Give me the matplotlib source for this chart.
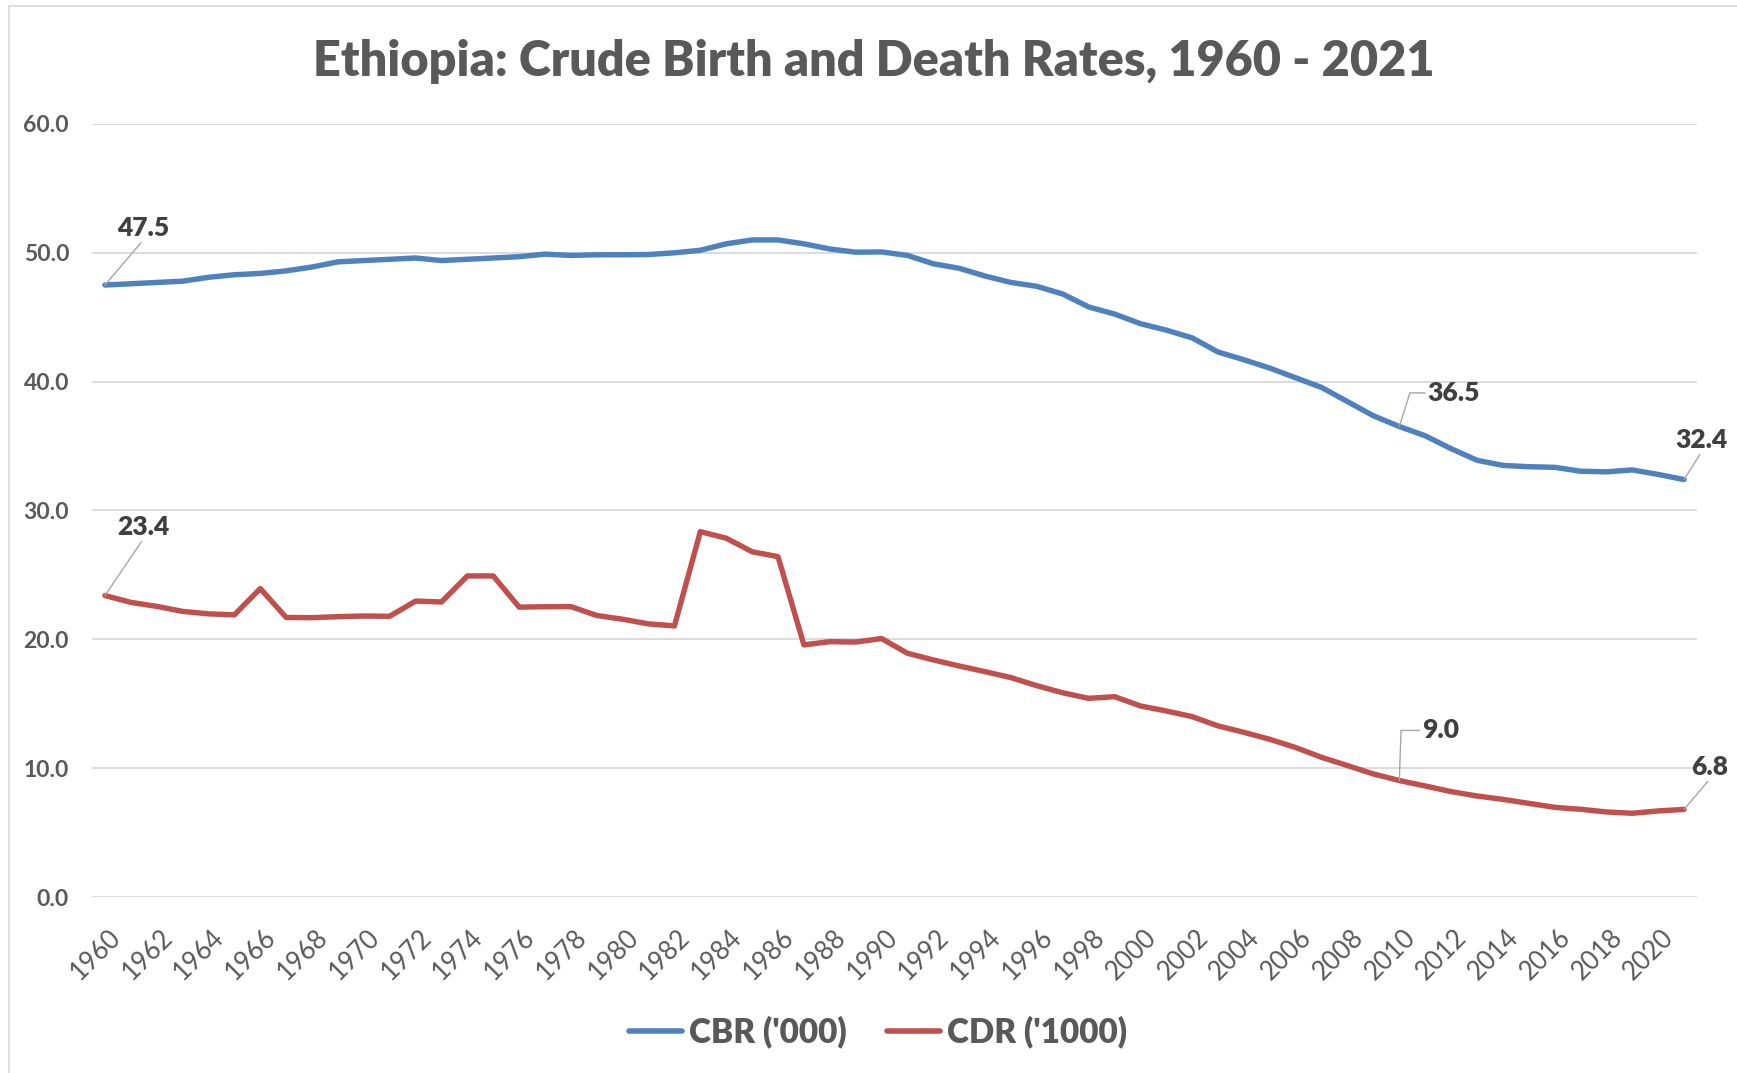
import matplotlib
matplotlib.use("Agg")
import matplotlib.pyplot as plt
from matplotlib.lines import Line2D
import matplotlib.transforms as mtransforms

plt.rcParams['font.family'] = ['Lato', 'DejaVu Sans']

# ---------------- data ----------------
years = list(range(1960, 2022))
cbr = [47.5, 47.6, 47.7, 47.8, 48.1, 48.3, 48.4, 48.6, 48.9, 49.3,
       49.4, 49.5, 49.6, 49.4, 49.5, 49.6, 49.7, 49.9, 49.8, 49.85,
       49.85, 49.87, 50.0, 50.2, 50.7, 51.0, 51.0, 50.7, 50.3, 50.05,
       50.07, 49.8, 49.15, 48.8, 48.2, 47.7, 47.4, 46.8, 45.8, 45.25,
       44.5, 44.0, 43.4, 42.3, 41.7, 41.05, 40.3, 39.55, 38.45, 37.35,
       36.52, 35.8, 34.8, 33.9, 33.5, 33.4, 33.35, 33.05, 33.0, 33.15,
       32.8, 32.4]
cdr = [23.4, 22.87, 22.56, 22.17, 21.98, 21.9, 23.94, 21.7, 21.68, 21.76,
       21.81, 21.79, 22.97, 22.9, 24.92, 24.92, 22.5, 22.53, 22.54, 21.85,
       21.56, 21.2, 21.04, 28.36, 27.85, 26.8, 26.42, 19.57, 19.82, 19.79,
       20.06, 18.92, 18.4, 17.93, 17.49, 17.03, 16.4, 15.85, 15.42, 15.55,
       14.83, 14.44, 14.0, 13.28, 12.78, 12.24, 11.6, 10.84, 10.2, 9.55,
       9.04, 8.62, 8.18, 7.84, 7.58, 7.27, 6.96, 6.81, 6.6, 6.5,
       6.68, 6.8]
series_names = ["CBR ('000)", "CDR ('1000)"]
title = "Ethiopia: Crude Birth and Death Rates, 1960 - 2021"
y_ticks = [0, 10, 20, 30, 40, 50, 60]
x_ticks = list(range(1960, 2021, 2))

# ---------------- style ----------------
W, H = 1737, 1073
BLUE = '#4F81BD'
RED = '#C0504D'
GRID = '#D9D9D9'
TXT = '#595959'
LBL = '#404040'
PX = 72 / 100.0  # points per pixel

fig = plt.figure(figsize=(W / 100, H / 100), dpi=100)
ax = fig.add_axes([92 / W, 176 / H, (1697 - 92) / W, (897 - 124) / H])

ax.plot(years, cbr, color=BLUE, lw=3.9, solid_capstyle='round', solid_joinstyle='round', zorder=3)
ax.plot(years, cdr, color=RED, lw=3.9, solid_capstyle='round', solid_joinstyle='round', zorder=3)

ax.set_xlim(years[0] - 0.5, years[-1] + 0.5)
ax.set_ylim(0, 60)
for s in ax.spines.values():
    s.set_visible(False)
ax.set_yticks(y_ticks)
ax.set_yticklabels([f"{v:.1f}" for v in y_ticks])
ax.yaxis.grid(True, color=GRID, lw=1.3)
ax.set_axisbelow(True)
ax.tick_params(axis='y', length=0, pad=16.5, labelsize=16.5, labelcolor=TXT)
for t in ax.get_yticklabels():
    t.set_fontweight('bold')

ax.set_xticks(x_ticks)
ax.set_xticklabels([str(x) for x in x_ticks])
ax.tick_params(axis='x', length=0, pad=20, labelsize=18.5, labelcolor=TXT)
offset = mtransforms.ScaledTranslation(3 / 100, 0, fig.dpi_scale_trans)
for t in ax.get_xticklabels():
    t.set_rotation(45)
    t.set_ha('right')
    t.set_va('top')
    t.set_rotation_mode('anchor')
    t.set_transform(t.get_transform() + offset)

# ---------------- data labels ----------------
def label(year, series, dx_px, dy_px, relpos, conn="arc3"):
    i = years.index(year)
    v = series[i]
    ax.annotate(f"{v:.1f}", xy=(year, v), xytext=(dx_px * PX, dy_px * PX),
                textcoords='offset points', ha='center', va='center',
                fontsize=19, fontweight='heavy', color=LBL, annotation_clip=False,
                arrowprops=dict(arrowstyle='-', color='#A6A6A6', lw=1.0,
                                relpos=relpos, shrinkA=0, shrinkB=0,
                                connectionstyle=conn), zorder=5)

label(1960, cbr, 38.5, 57.2, (0.5, 0.0))
label(1960, cdr, 38.5, 68.8, (0.5, 0.0))
label(2010, cbr, 54.7, 33.6, (0.0, 0.5), "angle,angleA=0,angleB=72.5,rad=0")
label(2010, cdr, 41.3, 50.1, (0.0, 0.5), "angle,angleA=0,angleB=88,rad=0")
label(2021, cbr, 17.5, 39.7, (0.5, 0.0))
label(2021, cdr, 26.0, 42.7, (0.5, 0.0))

# ---------------- title ----------------
fig.text(874 / W, 1 - 62 / H, title, ha='center', va='center',
         fontsize=35, fontweight='heavy', color=TXT)

# ---------------- legend ----------------
handles = [Line2D([], [], color=BLUE, lw=4.0, solid_capstyle='round'),
           Line2D([], [], color=RED, lw=4.0, solid_capstyle='round')]
leg = fig.legend(handles, series_names, loc='center', bbox_to_anchor=(878 / W, 41 / H),
                 ncol=2, frameon=False, handlelength=1.6, handletextpad=0.2,
                 columnspacing=1.2, prop=dict(weight='heavy', size=24))
for t in leg.get_texts():
    t.set_color(TXT)

# ---------------- chart border ----------------
fig.add_artist(Line2D([8.5 / W, 8.5 / W], [0, 1 - 6 / H], color=GRID, lw=1.2,
                      transform=fig.transFigure))
fig.add_artist(Line2D([8.5 / W, 1], [1 - 6 / H, 1 - 6 / H], color=GRID, lw=1.2,
                      transform=fig.transFigure))

fig.savefig("out.png", dpi=100)
